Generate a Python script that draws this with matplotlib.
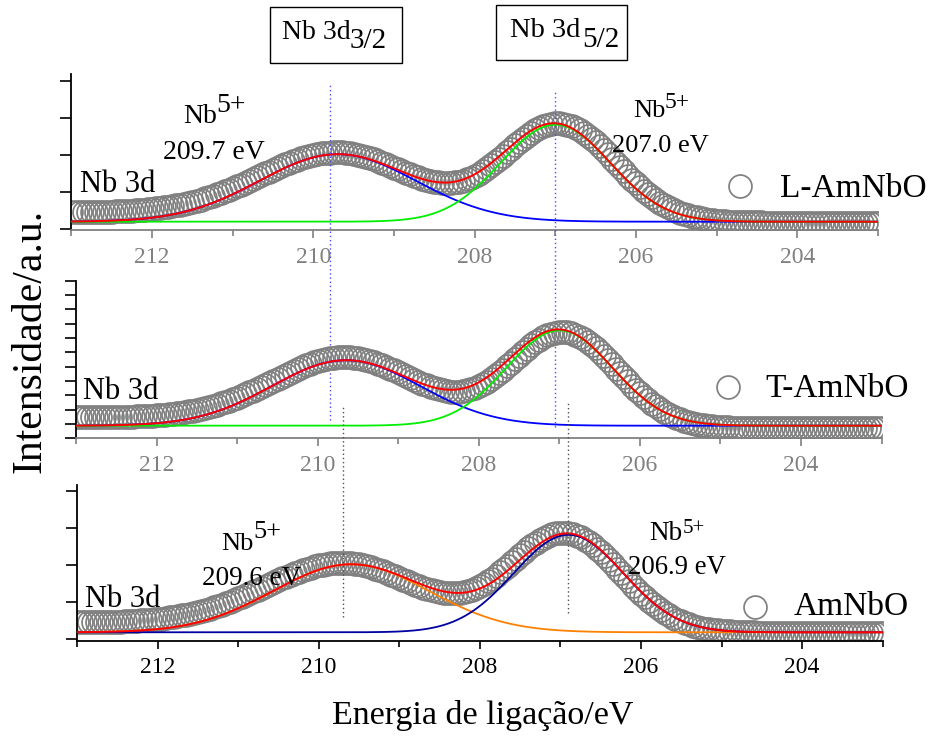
import numpy as np
import matplotlib
matplotlib.use("Agg")
import matplotlib.pyplot as plt
from matplotlib.ticker import FixedLocator, MultipleLocator
from matplotlib.patches import Rectangle

plt.rcParams['font.family'] = ['Liberation Serif', 'DejaVu Serif']
plt.rcParams['mathtext.fontset'] = 'custom'
plt.rcParams['mathtext.rm'] = 'Liberation Serif'

# binding energy axis (eV), 0.05 eV steps from 213 down to 203
energy = np.linspace(213.0, 203.0, 201)

# measured Nb 3d spectra (a.u.)
l_amnbo = [
    16.3, 16.4, 16.4, 16.4, 16.5, 16.6, 16.6, 16.7, 16.8, 16.9,
    17.1, 17.2, 17.4, 17.5, 17.8, 18.0, 18.3, 18.6, 18.9, 19.3,
    19.7, 20.2, 20.7, 21.3, 21.9, 22.6, 23.3, 24.1, 24.9, 25.9,
    26.8, 27.9, 29.0, 30.2, 31.5, 32.9, 34.3, 35.7, 37.3, 38.9,
    40.5, 42.2, 44.0, 45.8, 47.6, 49.5, 51.4, 53.3, 55.2, 57.1,
    58.9, 60.8, 62.5, 64.3, 65.9, 67.5, 69.0, 70.4, 71.6, 72.7,
    73.7, 74.6, 75.3, 75.8, 76.1, 76.3, 76.4, 76.2, 75.9, 75.4,
    74.7, 73.9, 72.9, 71.8, 70.5, 69.2, 67.7, 66.1, 64.5, 62.8,
    61.1, 59.4, 57.6, 55.9, 54.3, 52.7, 51.3, 49.9, 48.7, 47.7,
    46.9, 46.3, 45.9, 45.7, 45.9, 46.3, 47.0, 48.0, 49.3, 50.9,
    52.9, 55.0, 57.5, 60.2, 63.2, 66.3, 69.6, 73.0, 76.5, 80.0,
    83.4, 86.8, 90.1, 93.1, 95.9, 98.5, 100.6, 102.5, 103.9, 104.9,
    105.4, 105.5, 105.0, 104.1, 102.8, 101.0, 98.7, 96.1, 93.1, 89.8,
    86.2, 82.4, 78.3, 74.2, 70.0, 65.7, 61.4, 57.2, 53.1, 49.0,
    45.2, 41.4, 37.9, 34.6, 31.5, 28.6, 25.9, 23.5, 21.3, 19.3,
    17.5, 15.9, 14.5, 13.2, 12.1, 11.2, 10.3, 9.6, 9.0, 8.5,
    8.0, 7.7, 7.4, 7.1, 6.9, 6.7, 6.6, 6.4, 6.4, 6.3,
    6.2, 6.2, 6.1, 6.1, 6.1, 6.1, 6.0, 6.0, 6.0, 6.0,
    6.0, 6.0, 6.0, 6.0, 6.0, 6.0, 6.0, 6.0, 6.0, 6.0,
    6.0, 6.0, 6.0, 6.0, 6.0, 6.0, 6.0, 6.0, 6.0, 6.0,
    6.0,
]

t_amnbo = [
    21.0, 21.0, 21.0, 21.1, 21.1, 21.1, 21.1, 21.2, 21.2, 21.3,
    21.3, 21.4, 21.5, 21.6, 21.7, 21.9, 22.0, 22.2, 22.5, 22.7,
    23.0, 23.3, 23.7, 24.1, 24.5, 25.0, 25.6, 26.2, 26.9, 27.6,
    28.4, 29.3, 30.3, 31.3, 32.4, 33.6, 34.9, 36.2, 37.6, 39.1,
    40.7, 42.4, 44.1, 45.9, 47.8, 49.7, 51.7, 53.6, 55.7, 57.7,
    59.7, 61.8, 63.8, 65.7, 67.7, 69.5, 71.3, 72.9, 74.5, 75.9,
    77.2, 78.3, 79.3, 80.0, 80.7, 81.1, 81.3, 81.3, 81.2, 80.8,
    80.2, 79.5, 78.5, 77.4, 76.2, 74.7, 73.2, 71.5, 69.8, 67.9,
    66.0, 64.1, 62.1, 60.2, 58.3, 56.4, 54.6, 53.0, 51.4, 50.1,
    48.9, 48.0, 47.2, 46.8, 46.6, 46.7, 47.2, 47.9, 49.0, 50.4,
    52.1, 54.2, 56.5, 59.2, 62.1, 65.2, 68.5, 72.0, 75.5, 79.2,
    82.8, 86.3, 89.8, 93.0, 96.0, 98.7, 101.1, 103.1, 104.7, 105.7,
    106.3, 106.5, 106.0, 105.1, 103.7, 101.8, 99.5, 96.7, 93.6, 90.2,
    86.4, 82.5, 78.3, 74.1, 69.7, 65.4, 61.1, 56.9, 52.8, 48.8,
    45.0, 41.4, 38.0, 34.8, 31.9, 29.2, 26.8, 24.5, 22.5, 20.8,
    19.2, 17.8, 16.6, 15.5, 14.6, 13.8, 13.2, 12.6, 12.1, 11.7,
    11.4, 11.1, 10.9, 10.7, 10.6, 10.4, 10.3, 10.3, 10.2, 10.2,
    10.1, 10.1, 10.1, 10.1, 10.0, 10.0, 10.0, 10.0, 10.0, 10.0,
    10.0, 10.0, 10.0, 10.0, 10.0, 10.0, 10.0, 10.0, 10.0, 10.0,
    10.0, 10.0, 10.0, 10.0, 10.0, 10.0, 10.0, 10.0, 10.0, 10.0,
    10.0,
]

amnbo = [
    16.3, 16.4, 16.4, 16.4, 16.5, 16.6, 16.6, 16.7, 16.8, 16.9,
    17.1, 17.2, 17.4, 17.5, 17.8, 18.0, 18.3, 18.6, 18.9, 19.3,
    19.7, 20.2, 20.7, 21.3, 21.9, 22.6, 23.3, 24.1, 24.9, 25.8,
    26.7, 27.8, 28.9, 30.1, 31.4, 32.7, 34.1, 35.5, 37.1, 38.7,
    40.3, 42.0, 43.8, 45.6, 47.4, 49.2, 51.1, 53.0, 54.9, 56.8,
    58.6, 60.4, 62.2, 63.9, 65.6, 67.1, 68.6, 70.0, 71.2, 72.4,
    73.3, 74.2, 74.9, 75.4, 75.7, 75.9, 76.0, 75.8, 75.5, 75.0,
    74.3, 73.5, 72.5, 71.4, 70.2, 68.8, 67.3, 65.8, 64.1, 62.4,
    60.8, 59.1, 57.3, 55.6, 54.0, 52.5, 51.0, 49.7, 48.5, 47.5,
    46.7, 46.1, 45.7, 45.6, 45.7, 46.2, 46.9, 47.9, 49.2, 50.8,
    52.8, 55.0, 57.5, 60.2, 63.2, 66.4, 69.7, 73.1, 76.6, 80.1,
    83.6, 87.0, 90.3, 93.4, 96.2, 98.8, 100.9, 102.7, 104.2, 105.2,
    105.7, 105.8, 105.3, 104.4, 103.1, 101.3, 99.0, 96.4, 93.4, 90.0,
    86.4, 82.6, 78.5, 74.4, 70.2, 65.9, 61.6, 57.4, 53.2, 49.1,
    45.2, 41.4, 37.9, 34.6, 31.5, 28.6, 25.9, 23.4, 21.2, 19.2,
    17.4, 15.8, 14.4, 13.1, 12.0, 11.1, 10.2, 9.5, 8.9, 8.4,
    7.9, 7.6, 7.3, 7.0, 6.8, 6.6, 6.5, 6.3, 6.3, 6.2,
    6.1, 6.1, 6.0, 6.0, 6.0, 6.0, 5.9, 5.9, 5.9, 5.9,
    5.9, 5.9, 5.9, 5.9, 5.9, 5.9, 5.9, 5.9, 5.9, 5.9,
    5.9, 5.9, 5.9, 5.9, 5.9, 5.9, 5.9, 5.9, 5.9, 5.9,
    5.9,
]

# Gaussian peak fits: [Nb 3d3/2, Nb 3d5/2]
l_fit_base = 7.0
l_fit_centers = [209.7, 207.0]
l_fit_heights = [67.5, 97.0]
l_fit_sigmas = [0.97, 0.68]

t_fit_base = 12.6
t_fit_centers = [209.65, 207.0]
t_fit_heights = [65.5, 95.3]
t_fit_sigmas = [0.92, 0.66]

a_fit_base = 6.4
a_fit_centers = [209.6, 206.9]
a_fit_heights = [68.0, 97.5]
a_fit_sigmas = [0.97, 0.68]

sample_names = ['L-AmNbO', 'T-AmNbO', 'AmNbO']
x_major = [212, 210, 208, 206, 204]

GRAY = '#808080'
MS = 16.5
MEW = 1.25


def gauss(x, c, h, s):
    return h * np.exp(-(x - c) ** 2 / (2.0 * s ** 2))


fig = plt.figure(figsize=(9.29, 7.38), dpi=100)

ax_top = fig.add_axes([0.07696, 0.68835, 0.86814, 0.21138])
ax_mid = fig.add_axes([0.08202, 0.40610, 0.86685, 0.21355])
ax_bot = fig.add_axes([0.08288, 0.13184, 0.86728, 0.21098])

panels = [
    dict(ax=ax_top, data=l_amnbo, base=l_fit_base, c=l_fit_centers,
         h=l_fit_heights, s=l_fit_sigmas, colors=['#0000ff', '#00ee00'],
         ylim=(-1.3, 154.7), yticks=[0, 37, 74, 111, 148], axis_color=GRAY,
         name=sample_names[0], name_pos=(0.8785, 0.2135), mk_pos=(0.829, 0.283),
         nb3d_pos=(0.0105, 0.2436)),
    dict(ax=ax_mid, data=t_amnbo, base=t_fit_base, c=t_fit_centers,
         h=t_fit_heights, s=t_fit_sigmas, colors=['#0000ff', '#00ee00'],
         ylim=(0, 157.6), yticks=list(np.arange(12) * 14.33), axis_color=GRAY,
         name=sample_names[1], name_pos=(0.8553, 0.264), mk_pos=(0.8098, 0.3236),
         nb3d_pos=(0.0088, 0.2475)),
    dict(ax=ax_bot, data=amnbo, base=a_fit_base, c=a_fit_centers,
         h=a_fit_heights, s=a_fit_sigmas, colors=['#ff8000', '#0000a0'],
         ylim=(-2.0, 153.7), yticks=[0, 37, 74, 111, 148], axis_color='black',
         name=sample_names[2], name_pos=(0.889, 0.165), mk_pos=(0.8415, 0.2184),
         nb3d_pos=(0.0099, 0.2145)),
]

x_fit = np.linspace(213.0, 203.0, 801)

for p in panels:
    ax = p['ax']
    ax.set_facecolor('none')
    ax.plot(energy, p['data'], ls='none', marker='o', ms=MS, mfc='none',
            mec=GRAY, mew=MEW, zorder=2)
    comps = [gauss(x_fit, c, h, s) for c, h, s in zip(p['c'], p['h'], p['s'])]
    for comp, col in zip(comps, p['colors']):
        ax.plot(x_fit, p['base'] + comp, color=col, lw=1.3, zorder=3)
    ax.plot(x_fit, p['base'] + comps[0] + comps[1], color='#ff0000', lw=1.4, zorder=4)

    ax.set_xlim(213, 203)
    ax.set_ylim(*p['ylim'])
    ax.xaxis.set_major_locator(FixedLocator(x_major))
    ax.xaxis.set_minor_locator(MultipleLocator(1))
    ax.set_yticks(p['yticks'])
    ax.tick_params(axis='y', which='both', direction='out', length=8, width=1.2,
                   labelleft=False, color='black')
    ax.tick_params(axis='x', which='major', direction='out', length=6, width=1.2,
                   color=p['axis_color'], labelcolor=p['axis_color'],
                   labelsize=17, pad=6)
    ax.tick_params(axis='x', which='minor', direction='out', length=4, width=1.2,
                   color=p['axis_color'])
    for side in ('top', 'right'):
        ax.spines[side].set_visible(False)
    ax.spines['left'].set_color('black')
    ax.spines['left'].set_linewidth(1.3)
    ax.spines['bottom'].set_color(p['axis_color'])
    ax.spines['bottom'].set_linewidth(1.3)

    ax.text(*p['nb3d_pos'], 'Nb 3d', transform=ax.transAxes, ha='left',
            va='baseline', fontsize=22)
    ax.plot(*p['mk_pos'], marker='o', ms=MS, mfc='none', mec=GRAY, mew=MEW,
            transform=ax.transAxes, clip_on=False)
    ax.text(*p['name_pos'], p['name'], transform=ax.transAxes, ha='left',
            va='baseline', fontsize=24)

# peak annotations: Nb5+ with binding energies
def nb5(ax, nb_pos, sup_pos, ev_pos, ev_text, size, sup_size, ev_size):
    ax.text(*nb_pos, 'Nb', transform=ax.transAxes, ha='left', va='baseline',
            fontsize=size, zorder=6)
    ax.text(*sup_pos, '5+', transform=ax.transAxes, ha='left', va='baseline',
            fontsize=sup_size, zorder=6)
    ax.text(*ev_pos, ev_text, transform=ax.transAxes, ha='left', va='baseline',
            fontsize=ev_size, zorder=6)

nb5(ax_top, (0.1379, 0.684), (0.180, 0.758), (0.1138, 0.453),
    '209.7 eV', 20, 20, 20)
nb5(ax_top, (0.6966, 0.7224), (0.7359, 0.780), (0.6698, 0.502),
    '207.0 eV', 19, 17, 19)
nb5(ax_bot, (0.1784, 0.5825), (0.2188, 0.6577), (0.1548, 0.3577),
    '209.6 eV', 19, 19, 19.5)
nb5(ax_bot, (0.7103, 0.6468), (0.7518, 0.6898), (0.6843, 0.4284),
    '206.9 eV', 19.5, 15, 19.3)

# guide lines through the peak positions
top_guides = [209.8, 207.0]
top_guide_spans = [(-1.218, 0.942), (-1.263, 0.897)]
for x, (y0, y1) in zip(top_guides, top_guide_spans):
    ax_top.axvline(x, ymin=y0, ymax=y1, color='#4a4aff', lw=1.0,
                   ls=(0, (1, 2)), clip_on=False, zorder=5)

bot_guides = [209.7, 206.9]
bot_guide_spans = [(0.152, 1.507), (0.178, 1.540)]
for x, (y0, y1) in zip(bot_guides, bot_guide_spans):
    ax_bot.axvline(x, ymin=y0, ymax=y1, color='#505050', lw=1.0,
                   ls=(0, (1, 2)), clip_on=False, zorder=5)

# spin-orbit component boxes
boxes = [(0.2906, 0.9146, 0.1421, 0.0759), (0.5339, 0.9187, 0.1410, 0.0745)]
for x0, y0, w, h in boxes:
    fig.add_artist(Rectangle((x0, y0), w, h, transform=fig.transFigure,
                             fill=False, ec='black', lw=1.0))
fig.text(0.3032, 0.9467, 'Nb 3d', fontsize=20, ha='left', va='baseline')
fig.text(0.3767, 0.9346, '3/2', fontsize=21, ha='left', va='baseline')
fig.text(0.5490, 0.9495, 'Nb 3d', fontsize=20.5, ha='left', va='baseline')
fig.text(0.6270, 0.9367, '5/2', fontsize=21, ha='left', va='baseline')

fig.text(0.0323, 0.538, 'Intensidade/a.u.', rotation=90, ha='center',
         va='center', fontsize=30)
fig.text(0.520, 0.0300, 'Energia de ligação/eV', ha='center', va='center',
         fontsize=24.5)

fig.savefig('out.png', dpi=100)
